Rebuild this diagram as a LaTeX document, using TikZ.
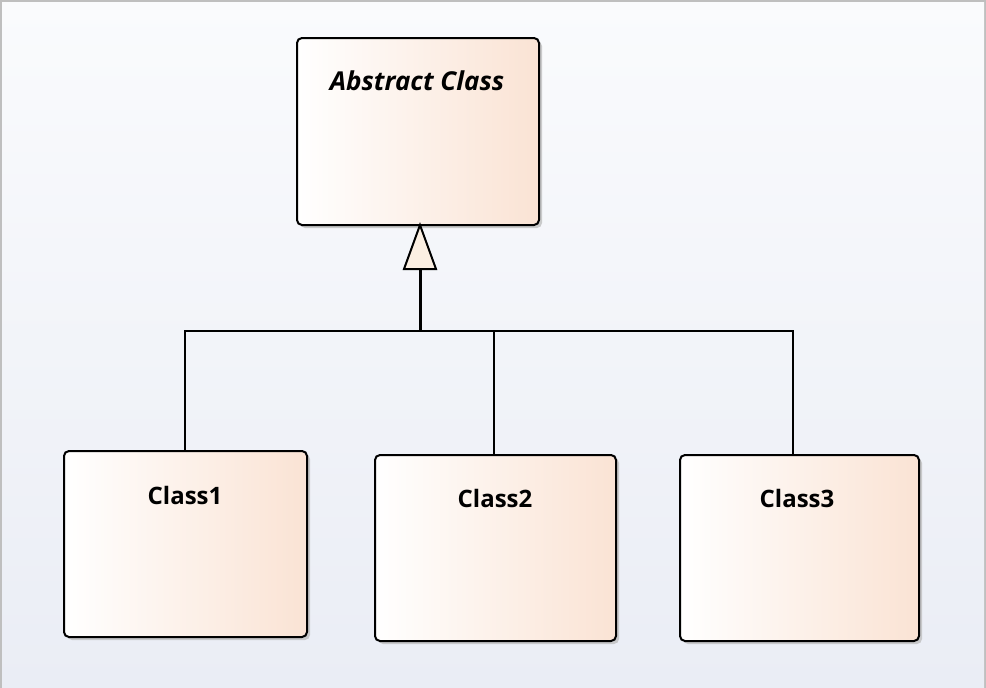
\documentclass[tikz,border=0pt]{standalone}
\usepackage{fontspec}
\setmainfont{Open Sans}
\usetikzlibrary{shadows}
\definecolor{boxright}{HTML}{FAE3D4}
\definecolor{bgtop}{HTML}{FAFBFD}
\definecolor{bgbot}{HTML}{EAEDF5}
\definecolor{frame}{HTML}{BFBFBF}
\definecolor{tipfill}{HTML}{FBEFE2}
\tikzset{
  classbox/.style={draw=black, line width=2pt, rounded corners=5pt,
    left color=white, right color=boxright,
    drop shadow={shadow xshift=3pt, shadow yshift=-3pt, fill=black!25, opacity=0.8}},
  classname/.style={font=\bfseries\fontsize{24}{28}\selectfont},
  conn/.style={draw=black, line width=2pt}
}
\begin{document}
\begin{tikzpicture}[x=1pt,y=-1pt]
\useasboundingbox (0,0) rectangle (986,688);
\fill[frame] (0,0) rectangle (986,688);
\shade[top color=bgtop, bottom color=bgbot] (2,2) rectangle (984,688);
% boxes
\path[classbox] (297,38) rectangle (539,225);
\path[classbox] (64,451) rectangle (307,637);
\path[classbox] (375,455) rectangle (616,641);
\path[classbox] (680,455) rectangle (919,641);
\coordinate (absB) at (420,225);
\node[classname, font=\bfseries\itshape\fontsize{26}{30}\selectfont] (absT) at (417,81) {Abstract Class};
\node[classname] (c1T) at (185,495) {Class1};
\node[classname] (c2T) at (495,498) {Class2};
\node[classname] (c3T) at (797,498) {Class3};
\coordinate (c1) at (185,451);
\coordinate (c2) at (494,455);
\coordinate (c3) at (793,455);
\coordinate (j) at (420,331);
\coordinate (tipbase) at (420,269);
% connectors
\draw[conn] (c1) |- (j);
\draw[conn] (c3) |- (j);
\draw[conn] (c2) -- (494,331);
\draw[draw=black, line width=3pt] (j) -- (tipbase);
\draw[draw=black, line width=2pt, fill=tipfill, line join=miter]
  (absB) -- (436,269) -- (404,269) -- cycle;
\end{tikzpicture}
\end{document}
